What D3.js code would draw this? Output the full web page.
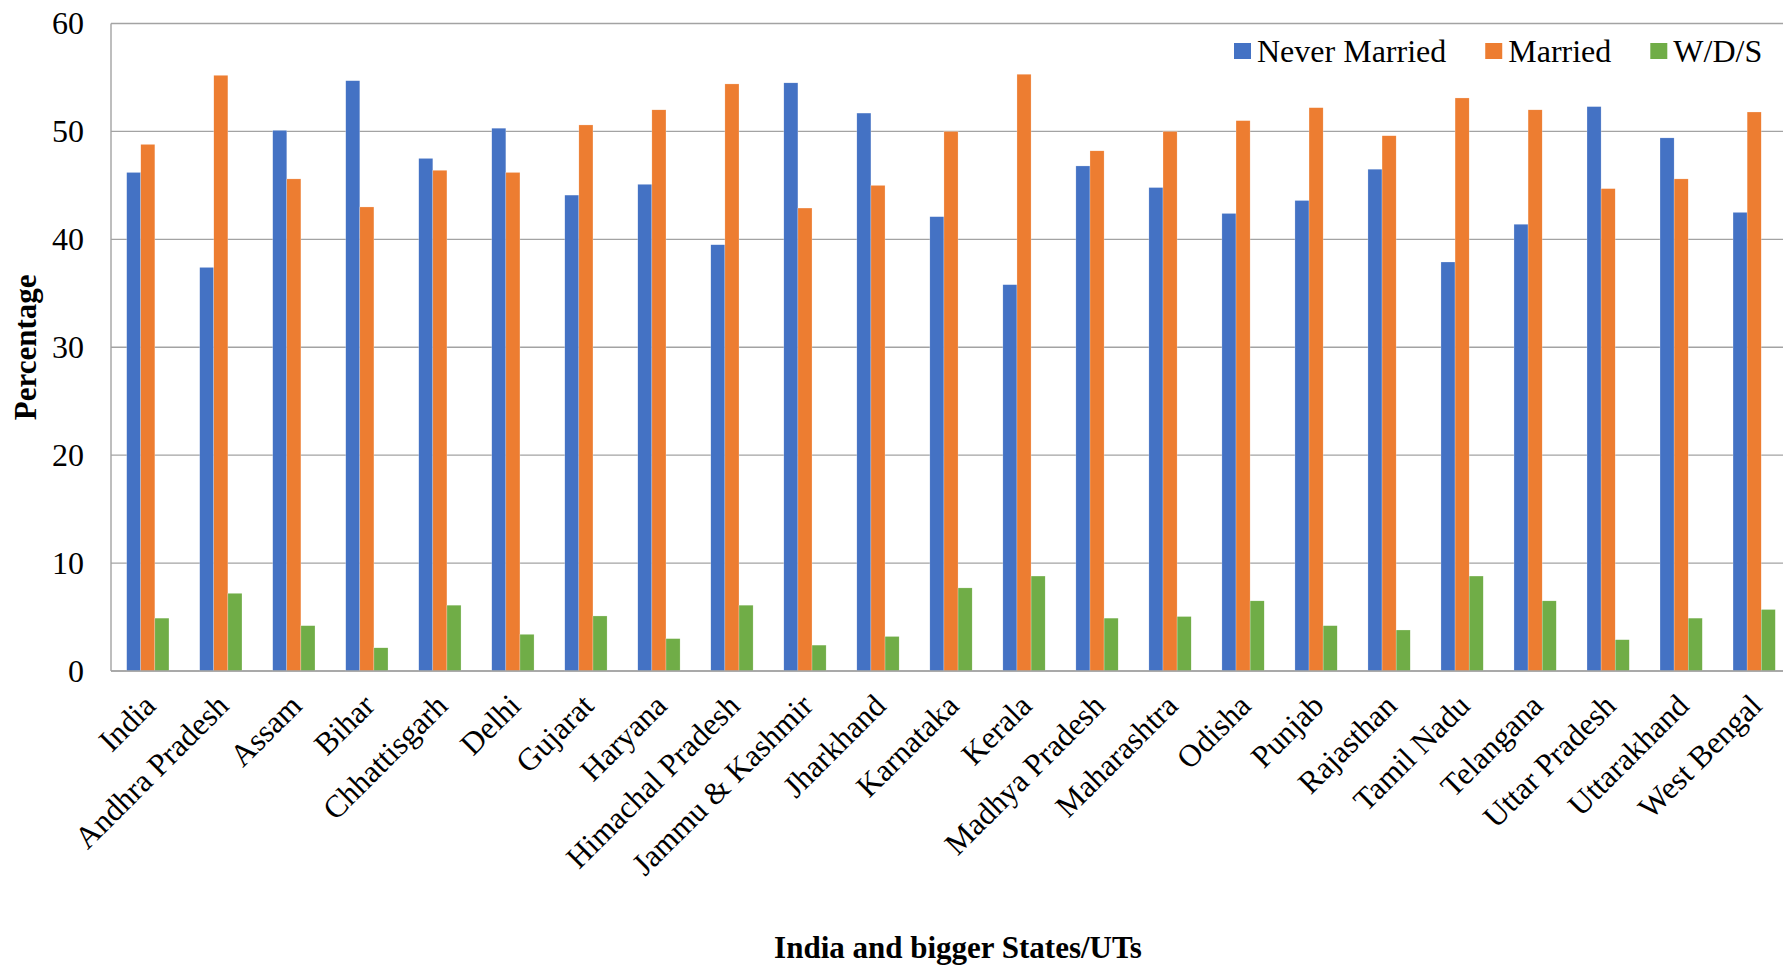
<!DOCTYPE html>
<html>
<head>
<meta charset="utf-8">
<script src="https://cdn.jsdelivr.net/npm/d3@7"></script>
<style>
  html, body { margin: 0; padding: 0; background: #fff; }
  svg { display: block; }
</style>
</head>
<body>
<svg id="chart" width="1783" height="969"></svg>
<script>
const categories = ["India", "Andhra Pradesh", "Assam", "Bihar", "Chhattisgarh", "Delhi", "Gujarat", "Haryana",
  "Himachal Pradesh", "Jammu & Kashmir", "Jharkhand", "Karnataka", "Kerala", "Madhya Pradesh", "Maharashtra",
  "Odisha", "Punjab", "Rajasthan", "Tamil Nadu", "Telangana", "Uttar Pradesh", "Uttarakhand", "West Bengal"];
const seriesNames = ["Never Married", "Married", "W/D/S"];
const neverMarried = [46.2, 37.4, 50.1, 54.7, 47.5, 50.3, 44.1, 45.1, 39.5, 54.5, 51.7, 42.1, 35.8, 46.8, 44.8, 42.4, 43.6, 46.5, 37.9, 41.4, 52.3, 49.4, 42.5];
const married =      [48.8, 55.2, 45.6, 43.0, 46.4, 46.2, 50.6, 52.0, 54.4, 42.9, 45.0, 50.0, 55.3, 48.2, 50.0, 51.0, 52.2, 49.6, 53.1, 52.0, 44.7, 45.6, 51.8];
const wds =          [4.9, 7.2, 4.2, 2.15, 6.1, 3.4, 5.1, 3.0, 6.1, 2.4, 3.2, 7.7, 8.8, 4.9, 5.05, 6.5, 4.2, 3.8, 8.8, 6.5, 2.9, 4.9, 5.7];
const yTicks = [0, 10, 20, 30, 40, 50, 60];
const colors = ["#4472C4", "#ED7D31", "#70AD47"];
const yTitle = "Percentage";
const xTitle = "India and bigger States/UTs";

(function () {
const FONT = "'Liberation Serif', 'Times New Roman', serif";
const seriesValues = [neverMarried, married, wds];
const rows = categories.map((c, i) => ({ cat: c, vals: seriesValues.map(s => s[i]) }));

const svg = d3.select("#chart").attr("font-family", FONT);
const pLeft = 111, pRight = 1791, pTop = 23.5, pBottom = 671;

const x0 = d3.scaleBand().domain(categories).range([pLeft, pRight]).paddingInner(0.421).paddingOuter(0.215);
const x1 = d3.scaleBand().domain(d3.range(seriesNames.length)).range([0, x0.bandwidth()]);
const y = d3.scaleLinear().domain([0, 60]).range([pBottom, pTop]);

// gridlines
svg.append("g").selectAll("line").data(yTicks).join("line")
  .attr("x1", pLeft).attr("x2", 1783)
  .attr("y1", d => y(d)).attr("y2", d => y(d))
  .attr("stroke", "#a3a3a3").attr("stroke-width", 1.4);

// left axis line
svg.append("line").attr("x1", pLeft).attr("x2", pLeft).attr("y1", pTop).attr("y2", pBottom)
  .attr("stroke", "#a3a3a3").attr("stroke-width", 1.4);

// y tick labels via axis
const yAxis = d3.axisLeft(y).tickValues(yTicks).tickSize(0).tickPadding(27);
const yg = svg.append("g").attr("transform", `translate(${pLeft},0)`).call(yAxis)
  .attr("font-family", FONT).attr("font-size", 32);
yg.select(".domain").remove();
yg.selectAll("text").attr("font-size", 32).attr("font-family", FONT).attr("fill", "#000");

// bars
const groups = svg.append("g").selectAll("g").data(rows).join("g")
  .attr("transform", d => `translate(${x0(d.cat)},0)`);
groups.selectAll("rect").data(d => d.vals.map((v, k) => ({ v, k }))).join("rect")
  .attr("x", d => x1(d.k))
  .attr("width", x1.bandwidth())
  .attr("y", d => y(d.v))
  .attr("height", d => y(0) - y(d.v))
  .attr("fill", d => colors[d.k])
  .attr("stroke", "#ffffff").attr("stroke-width", 0.4).attr("stroke-opacity", 0.6);

// bottom axis line on top
svg.append("line").attr("x1", pLeft).attr("x2", 1783).attr("y1", pBottom).attr("y2", pBottom)
  .attr("stroke", "#a3a3a3").attr("stroke-width", 1.4);

// category labels via axis
const xAxis = d3.axisBottom(x0).tickSize(0).tickPadding(0);
const xg = svg.append("g").attr("transform", `translate(0,${pBottom})`).call(xAxis)
  .attr("font-family", FONT).attr("font-size", 31.5);
xg.select(".domain").remove();
xg.selectAll(".tick text")
  .attr("font-size", 31.5).attr("font-family", FONT).attr("fill", "#000")
  .attr("text-anchor", "end")
  .attr("transform", "translate(-6,21) rotate(-45)")
  .attr("x", 0).attr("y", 0).attr("dy", "0.7em");

// axis titles
svg.append("text")
  .attr("transform", `translate(36,${(pTop + pBottom) / 2}) rotate(-90)`)
  .attr("text-anchor", "middle").attr("font-size", 31).attr("font-weight", "bold")
  .attr("font-family", FONT)
  .text(yTitle);
svg.append("text")
  .attr("x", 958).attr("y", 958)
  .attr("text-anchor", "middle").attr("font-size", 31).attr("font-weight", "bold")
  .attr("font-family", FONT)
  .text(xTitle);

// legend
const legend = svg.append("g");
let lx = 1234;
seriesNames.forEach((name, k) => {
  legend.append("rect").attr("x", lx).attr("y", 43).attr("width", 17).attr("height", 16).attr("fill", colors[k]);
  const t = legend.append("text").attr("x", lx + 23).attr("y", 51).attr("dy", "0.35em")
    .attr("font-family", FONT).attr("font-size", 32).attr("fill", "#000").text(name);
  lx = lx + 23 + t.node().getComputedTextLength() + 39;
});
})();
</script>
</body>
</html>
